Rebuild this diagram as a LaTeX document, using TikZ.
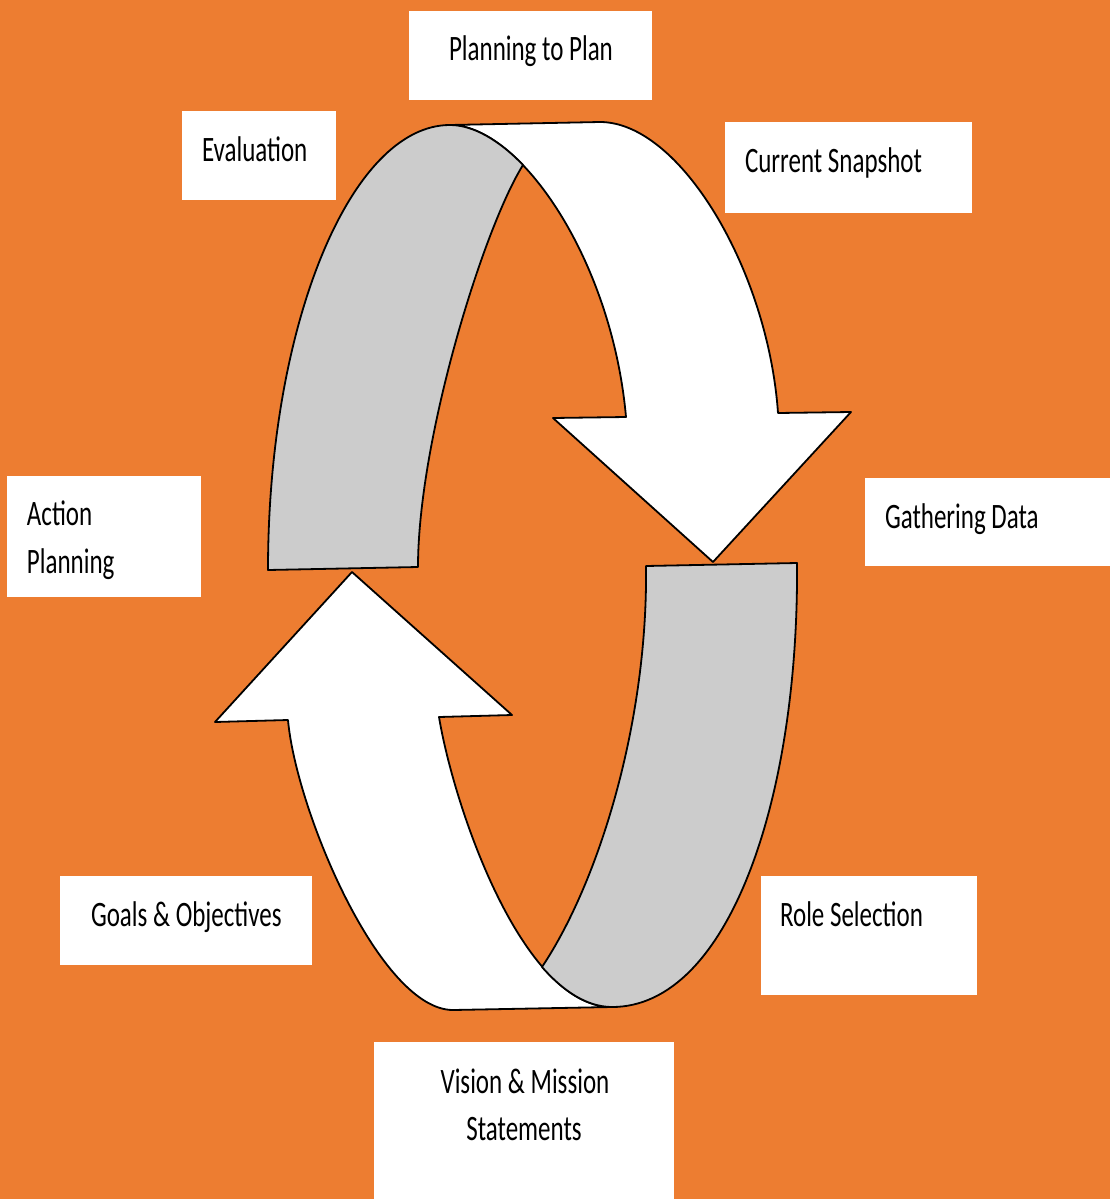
\documentclass[tikz,border=0pt]{standalone}
\usepackage{fontspec}
\setmainfont{Carlito}
\usepackage{graphicx}
\definecolor{bgorange}{HTML}{ED7D31}
\definecolor{ribbongray}{HTML}{CCCCCC}
\newcommand\tallText[1]{\scalebox{1}[1.43]{#1}}
\begin{document}
\begin{tikzpicture}[x=1pt,y=-1pt,
  box/.style={fill=white, draw=none, inner sep=0pt, outer sep=0pt, anchor=north west},
  lbl/.style={anchor=base west, inner sep=0pt, outer sep=0pt, font=\fontsize{25}{30}\selectfont},
  lblc/.style={lbl, anchor=base},
  ribbon/.style={draw=black, line width=1.8pt, line join=round}]
% background
\fill[bgorange] (0,0) rectangle (1110,1199);
\useasboundingbox (0,0) rectangle (1110,1199);

% ---- top ribbon arrow ----
\filldraw[ribbon, fill=white]
  (450,125) -- (600,122)
  .. controls (680,122) and (768,270) .. (778,413)
  -- (851,412) -- (713,562) -- (553,418) -- (626,417)
  .. controls (612,260) and (520,125) .. (450,125)
  -- cycle;
\filldraw[ribbon, fill=ribbongray]
  (268,570) .. controls (268,324) and (351,125) .. (450,125)
  .. controls (473,125) and (499,140) .. (523,165)
  .. controls (483,229) and (418,440) .. (418,567)
  -- cycle;

% ---- bottom ribbon arrow ----
\filldraw[ribbon, fill=white]
  (288,720) -- (215,722) -- (352,572) -- (512,715) -- (439,717)
  .. controls (454,807) and (522,1007) .. (612,1007)
  -- (453,1010)
  .. controls (380,1010) and (296,810) .. (288,720)
  -- cycle;
\filldraw[ribbon, fill=ribbongray]
  (646,566) -- (797,563)
  .. controls (799,800) and (728,1007) .. (612,1007)
  .. controls (587,1007) and (563,991) .. (542,967)
  .. controls (600,880) and (648,720) .. (646,566)
  -- cycle;

% ---- label boxes ----
\node[box, minimum width=243pt, minimum height=89pt] (bplan) at (409,11) {};
\node[box, minimum width=154pt, minimum height=89pt] (beval) at (182,111) {};
\node[box, minimum width=247pt, minimum height=91pt] (bsnap) at (725,122) {};
\node[box, minimum width=245pt, minimum height=88pt] (bdata) at (865,478) {};
\node[box, minimum width=194pt, minimum height=121pt] (bact) at (7,476) {};
\node[box, minimum width=252pt, minimum height=89pt] (bgoal) at (60,876) {};
\node[box, minimum width=216pt, minimum height=119pt] (brole) at (761,876) {};
\node[box, minimum width=300pt, minimum height=160pt] (bvis) at (374,1042) {};

% ---- labels ----
\node[lbl] (tplan) at (449,61) {\tallText{Planning to Plan}};
\node[lbl] (teval) at (202,161) {\tallText{Evaluation}};
\node[lbl] (tsnap) at (745,172) {\tallText{Current Snapshot}};
\node[lbl] (tdata) at (885,528) {\tallText{Gathering Data}};
\node[lbl] (tact1) at (27,525) {\tallText{Action}};
\node[lbl] (tact2) at (27,573) {\tallText{Planning}};
\node[lbl] (tgoal) at (91,926) {\tallText{Goals \& Objectives}};
\node[lbl] (trole) at (780,926) {\tallText{Role Selection}};
\node[lblc] (tvis1) at (525,1093) {\tallText{Vision \& Mission}};
\node[lblc] (tvis2) at (524,1140) {\tallText{Statements}};
\end{tikzpicture}
\end{document}
